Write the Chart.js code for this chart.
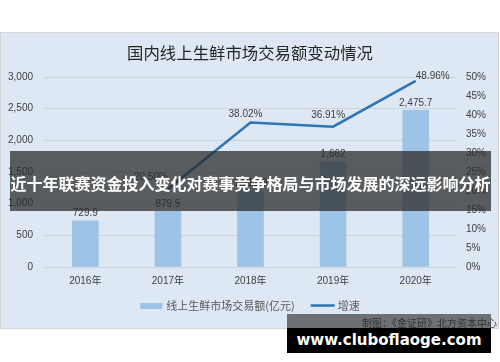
<!DOCTYPE html>
<html><head><meta charset="utf-8">
<script src="https://cdn.jsdelivr.net/npm/chart.js@4.4.1/dist/chart.umd.min.js"></script>
<style>
html,body{margin:0;padding:0;background:#fff;width:500px;height:362px;overflow:hidden;}
#panel{position:absolute;left:0;top:32px;width:497px;height:295px;background:#dde8f4;border:1px solid #d4d6d8;}
#c{position:absolute;left:0;top:0;}
#source{position:absolute;right:3px;top:315px;height:15px;line-height:15px;font:10px "Noto Sans CJK SC",sans-serif;color:#404040;white-space:nowrap;}
#banner{position:absolute;left:10px;top:151px;width:481px;height:60px;background:rgba(40,40,40,0.73);color:#fff;font:bold 16px "Noto Sans CJK SC",sans-serif;line-height:60px;text-align:center;white-space:nowrap;padding-top:2px;box-sizing:border-box;}
#strip{position:absolute;left:287px;top:314px;width:204px;height:14px;background:rgba(40,40,40,0.62);}
#site{position:absolute;left:287px;top:328px;width:204px;height:25px;background:#000;color:#fff;font:bold 15px "DejaVu Sans",sans-serif;line-height:25px;text-align:center;white-space:nowrap;}
</style>
</head><body>
<div id="panel"></div>
<canvas id="c" width="500" height="362"></canvas>
<div id="source">制图：《金证研》北方资本中心</div>
<div id="banner">近十年联赛资金投入变化对赛事竞争格局与市场发展的深远影响分析</div>
<div id="strip"></div>
<div id="site">www.cluboflaoge.com</div>
<script>
const chartTitle = '国内线上生鲜市场交易额变动情况';
const categories = ['2016年', '2017年', '2018年', '2019年', '2020年'];
const salesName = '线上生鲜市场交易额(亿元)';
const salesValues = [729.9, 879.5, 1213.9, 1662, 2475.7];
const salesLabels = ['729.9', '879.5', '1,213.9', '1,662', '2,475.7'];
const growthName = '增速';
const growthValues = [null, 20.50, 38.02, 36.91, 48.96];
const growthLabels = ['', '20.50%', '38.02%', '36.91%', '48.96%'];
const leftMin = 0, leftMax = 3000, leftStep = 500;
const rightMin = 0, rightMax = 50, rightStep = 5;

const FONT = '"Liberation Sans", "Noto Sans CJK SC", sans-serif';
const CJK = '"Noto Sans CJK SC", "Liberation Sans", sans-serif';
const BAR_COLOR = '#9dc3e6';
const LINE_COLOR = '#2e75b6';
const TEXT = '#404040';

Chart.defaults.font.family = FONT;
Chart.defaults.font.size = 10;
Chart.defaults.color = TEXT;

const growthLabelOffsets = [[0, 0], [-17, -9.5], [-5, -5.5], [-5, -9], [17, -2]];

const decor = {
  id: 'decor',
  afterDatasetsDraw(chart) {
    const ctx = chart.ctx;
    ctx.save();
    // bar value labels
    ctx.font = '10px ' + FONT;
    ctx.fillStyle = TEXT;
    ctx.textAlign = 'center';
    ctx.textBaseline = 'alphabetic';
    chart.getDatasetMeta(1).data.forEach((bar, i) => {
      ctx.fillText(salesLabels[i], bar.x, bar.y - 4.5);
    });
    chart.getDatasetMeta(0).data.forEach((pt, i) => {
      if (growthValues[i] == null) return;
      const o = growthLabelOffsets[i];
      ctx.fillText(growthLabels[i], pt.x + o[0], pt.y + o[1]);
    });
    ctx.restore();
  },
  afterDraw(chart) {
    const ctx = chart.ctx;
    ctx.save();
    // title
    ctx.font = '16.4px ' + CJK;
    ctx.fillStyle = '#262626';
    ctx.textAlign = 'center';
    ctx.textBaseline = 'middle';
    ctx.fillText(chartTitle, 250, 53);
    // legend
    ctx.font = '11px ' + CJK;
    ctx.fillStyle = '#595959';
    ctx.textAlign = 'left';
    const w1 = ctx.measureText(salesName).width;
    const w2 = ctx.measureText(growthName).width;
    const total = 22 + 4 + w1 + 16 + 24 + 3 + w2;
    let x = 250 - total / 2;
    const y = 306;
    ctx.fillStyle = BAR_COLOR;
    ctx.fillRect(x, y - 3, 22, 6);
    x += 26;
    ctx.fillStyle = '#595959';
    ctx.fillText(salesName, x, y);
    x += w1 + 16;
    ctx.strokeStyle = LINE_COLOR;
    ctx.lineWidth = 2.5;
    ctx.beginPath();
    ctx.moveTo(x, y - 0.5);
    ctx.lineTo(x + 24, y - 0.5);
    ctx.stroke();
    x += 27;
    ctx.fillText(growthName, x, y);
    ctx.restore();
  }
};

new Chart(document.getElementById('c'), {
  data: {
    labels: categories,
    datasets: [
      {
        type: 'line', label: growthName, data: growthValues, yAxisID: 'y1',
        borderColor: LINE_COLOR, borderWidth: 2.6, pointRadius: 0, tension: 0,
        fill: false, order: 0
      },
      {
        type: 'bar', label: salesName, data: salesValues, yAxisID: 'y',
        backgroundColor: BAR_COLOR, barThickness: 26, order: 1
      }
    ]
  },
  options: {
    responsive: false,
    animation: false,
    layout: { padding: { top: 77, left: 0, right: 0, bottom: 0 } },
    plugins: { legend: { display: false }, title: { display: false }, tooltip: { enabled: false } },
    scales: {
      x: {
        grid: { display: false, drawTicks: false },
        border: { display: false },
        ticks: { padding: 8, color: TEXT, font: { size: 10, family: FONT } },
        afterFit(s) { s.height = 95; }
      },
      y: {
        position: 'left', min: leftMin, max: leftMax,
        grid: { color: '#cdd3da', lineWidth: 1, drawTicks: false },
        border: { display: false },
        ticks: { stepSize: leftStep, padding: 11, color: TEXT,
          callback: v => v.toLocaleString('en-US') },
        afterFit(s) { s.width = 44; }
      },
      y1: {
        position: 'right', min: rightMin, max: rightMax,
        grid: { display: false, drawTicks: false },
        border: { display: false },
        ticks: { stepSize: rightStep, padding: 9, color: TEXT,
          callback: v => v + '%' },
        afterFit(s) { s.width = 43; }
      }
    }
  },
  plugins: [decor]
});
</script>
</body></html>
